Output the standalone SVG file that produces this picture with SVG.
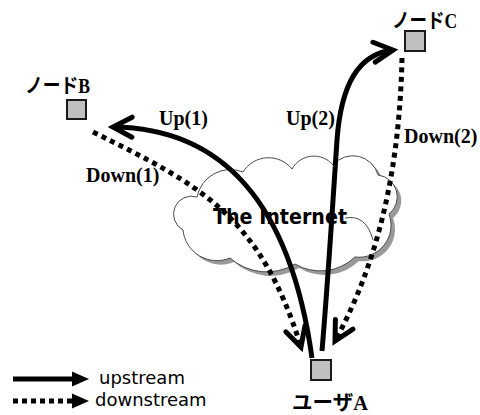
<svg xmlns="http://www.w3.org/2000/svg" width="480" height="415" viewBox="0 0 480 415">
  <style>
    .node rect { fill: #c0c0c0; stroke: #1a1a1a; stroke-width: 2; }
    .nlabel { font-family: "Liberation Serif", "Noto Sans CJK JP", serif; font-weight: bold; fill: #000; }
    .elabel { font-family: "Liberation Serif", "Noto Sans CJK JP", serif; font-weight: bold; font-size: 20px; fill: #000; }
    .up { fill: none; stroke: #000; stroke-width: 5; stroke-linecap: butt; }
    .down { fill: none; stroke: #000; stroke-width: 5; stroke-dasharray: 5 4.5; stroke-linecap: butt; }
    .cloud { fill: #fff; stroke: #4a4a4a; stroke-width: 1; }
    .cloud-shadow { fill: #9a9a9a; }
    .legend-text { font-family: "DejaVu Sans", Verdana, sans-serif; font-size: 18px; fill: #000; }
  </style>
  <defs>
    <!-- open chevron head used on every connector end -->
    <marker id="chev" markerUnits="userSpaceOnUse" viewBox="-30 -20 40 40" markerWidth="40" markerHeight="40" refX="0" refY="0" orient="auto" overflow="visible">
      <path d="M-19,-10 L0,0 L-19,10" fill="none" stroke="#000" stroke-width="5" stroke-linejoin="miter" stroke-linecap="round" stroke-dasharray="none"/>
    </marker>
    <path id="cloudShape" d="M183,230 A18,18 0 0 1 197,197 A34,34 0 0 1 243,172 A30,30 0 0 1 292,169 A25,25 0 0 1 333,165 A26,26 0 0 1 378,175 A22,22 0 0 1 389,214 A32,32 0 0 1 355,257 A50,50 0 0 1 295,264 A55,55 0 0 1 230,258 A34,34 0 0 1 183,230 Z"/>
  </defs>

  <!-- the Internet cloud -->
  <g id="internet">
    <use href="#cloudShape" class="cloud-shadow" transform="translate(4,4)"/>
    <use href="#cloudShape" class="cloud"/>
    <path d="M345,218 Q366,214 373,240" fill="none" stroke="#4a4a4a" stroke-width="1"/>
    <text x="213" y="224" font-family="DejaVu Sans, Verdana, sans-serif" font-weight="bold" font-size="22" textLength="134" lengthAdjust="spacingAndGlyphs">The Internet</text>
  </g>

  <!-- connectors -->
  <g id="connectors">
    <g id="up1">
      <path class="up" d="M312,358 C290,200 220,128 113,127" marker-end="url(#chev)"/>
      <text class="elabel" x="159" y="125">Up(1)</text>
    </g>
    <g id="up2">
      <path class="up" d="M322,351 C328,280 333,200 337,140 C341,85 358,54 393,50" marker-end="url(#chev)"/>
      <text class="elabel" x="286" y="125">Up(2)</text>
    </g>
    <g id="down1">
      <path class="down" d="M93,132 C200,185 260,215 301,347" marker-end="url(#chev)"/>
      <text class="elabel" x="86" y="182">Down(1)</text>
    </g>
    <g id="down2">
      <path class="down" d="M402,58 C400,150 385,250 335,341" marker-end="url(#chev)"/>
      <text class="elabel" x="404" y="143">Down(2)</text>
    </g>
  </g>

  <!-- nodes -->
  <g id="nodeB" class="node">
    <rect x="67" y="100" width="19" height="19"/>
    <text class="nlabel" x="25" y="93" font-size="20" textLength="65" lengthAdjust="spacingAndGlyphs">ノードB</text>
  </g>
  <g id="nodeC" class="node">
    <rect x="405" y="31" width="20" height="20"/>
    <text class="nlabel" x="392" y="28" font-size="20" textLength="65" lengthAdjust="spacingAndGlyphs">ノードC</text>
  </g>
  <g id="userA" class="node">
    <rect x="311" y="360" width="20" height="20"/>
    <text class="nlabel" x="292" y="410" font-size="20" textLength="76" lengthAdjust="spacingAndGlyphs">ユーザA</text>
  </g>

  <!-- legend -->
  <g id="legend">
    <line x1="13" y1="379" x2="74" y2="379" stroke="#000" stroke-width="5"/>
    <polygon points="72,371.5 89,379 72,386.5" fill="#000"/>
    <text class="legend-text" x="99" y="384">upstream</text>
    <line x1="13" y1="401" x2="72" y2="401" stroke="#000" stroke-width="5" stroke-dasharray="5 4"/>
    <polygon points="72,393.5 89,401 72,408.5" fill="#000"/>
    <text class="legend-text" x="95" y="406">downstream</text>
  </g>
</svg>
